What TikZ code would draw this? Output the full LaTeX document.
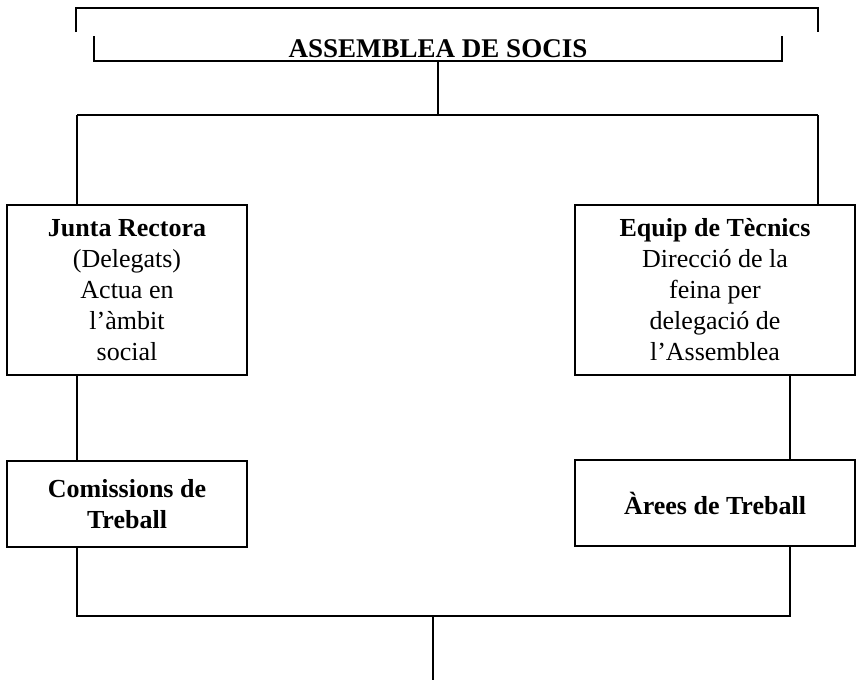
\documentclass[tikz,border=0pt]{standalone}
\usepackage{fontspec}
\setmainfont{Liberation Serif}
\usepackage{tikz}

\begin{document}
\begin{tikzpicture}[x=1pt,y=-1pt,line width=1.6pt,
    box/.style={draw,rectangle,align=center,inner sep=0pt,
      font=\fontsize{26}{31}\selectfont},
    titol/.style={rectangle,inner sep=0pt,font=\bfseries\fontsize{27}{30}\selectfont}]
            \useasboundingbox (0,0) rectangle (859,680);
            % capcalera
            \node[titol,minimum width=686pt,minimum height=23pt] (assemblea) at (438,48.5) {ASSEMBLEA DE SOCIS};
            \draw (assemblea.north west)--(assemblea.south west)--(assemblea.south east)--(assemblea.north east);
            \draw (76,32)--(76,8)--(818,8)--(818,32);
            \coordinate (tm) at (438,115);
            \coordinate (tl) at (77,115);
            \coordinate (tr) at (818,115);
            \draw (assemblea.south-|tm)--(tm);
            \draw (tl)--(tr);
            % caixes
            \node[box,minimum width=240pt,minimum height=170pt] (junta) at (127,290)
                {\textbf{Junta Rectora}\\(Delegats)\\Actua en\\l'àmbit\\social};
            \node[box,minimum width=280pt,minimum height=170pt] (equip) at (715,290)
                {\textbf{Equip de Tècnics}\\Direcció de la\\feina per\\delegació de\\l'Assemblea};
            \node[box,minimum width=240pt,minimum height=86pt] (comissions) at (127,504)
                {\textbf{Comissions de}\\\textbf{Treball}};
            \node[box,minimum width=280pt,minimum height=86pt] (arees) at (715,503)
                {\textbf{Àrees de Treball}};
            \coordinate (bl) at (77,616);
            \coordinate (br) at (790,616);
            \coordinate (bm) at (433,616);
            \coordinate (fi) at (433,680);
            % connexions
            \draw (tl)--(tl|-junta.north);
            \draw (tr)--(tr|-equip.north);
            \draw (junta.south-|tl)--(comissions.north-|tl);
            \draw (equip.south-|br)--(arees.north-|br);
            \draw (comissions.south-|bl)--(bl)--(br)--(arees.south-|br);
            \draw (bm)--(fi);
        \end{tikzpicture}
\end{document}
